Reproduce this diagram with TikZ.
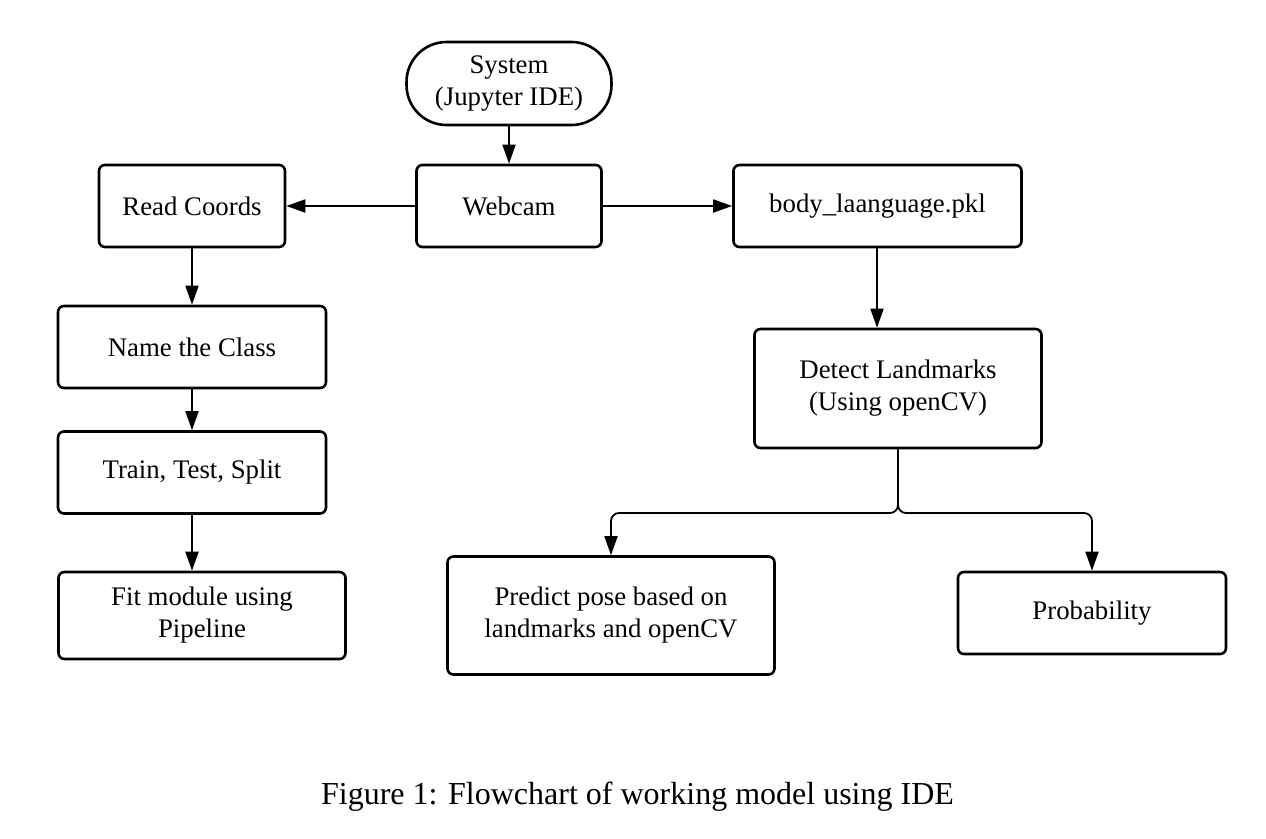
\documentclass[tikz,border=0pt]{standalone}
\usepackage{fontspec}
\setmainfont{Liberation Serif}
\usetikzlibrary{arrows.meta}
\newcommand{\boxfont}{\fontsize{26.8}{32}\selectfont}
\newcommand{\capfont}{\fontsize{32}{38}\selectfont}
\tikzset{
  flowbox/.style={draw, line width=2.6pt, rounded corners=6pt, inner sep=0pt,
    align=center, font=\boxfont, fill=white},
  termbox/.style={flowbox, rounded corners=40pt},
  conn/.style={line width=1.8pt, -{Triangle[length=19pt,width=13pt]}},
  branch/.style={conn, rounded corners=8pt}
}
\begin{document}
\begin{tikzpicture}[x=1pt,y=-1pt]
\useasboundingbox (0,0) rectangle (1266,838);
\node[termbox, minimum width=205pt, minimum height=83pt] (sys) at (509,83.5) {System\\(Jupyter IDE)};
\node[flowbox, minimum width=185pt, minimum height=82pt] (web) at (509,206) {Webcam};
\node[flowbox, minimum width=186pt, minimum height=82pt] (read) at (192,206) {Read Coords};
\node[flowbox, minimum width=288pt, minimum height=82pt] (body) at (877.5,206) {body\_laanguage.pkl};
\node[flowbox, minimum width=268pt, minimum height=82pt] (name) at (192,347) {Name the Class};
\node[flowbox, minimum width=268pt, minimum height=82pt] (train) at (192,472.5) {Train, Test, Split};
\node[flowbox, minimum width=287pt, minimum height=87pt] (fit) at (202,615.5) {Fit module using\\Pipeline};
\node[flowbox, minimum width=287pt, minimum height=119pt] (detect) at (898,388.5) {Detect Landmarks\\(Using openCV)};
\node[flowbox, minimum width=327pt, minimum height=118pt] (predict) at (611,615.5) {Predict pose based on\\landmarks and openCV};
\node[flowbox, minimum width=268pt, minimum height=82pt] (prob) at (1092,613) {Probability};
\node[font=\capfont, inner sep=0pt] (cap) at (637.5,797) {Figure 1: Flowchart of working model using IDE};

\draw[conn] (sys.south) -- (web.north);
\draw[conn] (web.west) -- (read.east);
\draw[conn] (web.east) -- (body.west);
\draw[conn] (read.south) -- (name.north);
\draw[conn] (name.south) -- (train.north);
\draw[conn] (train.south) -- (train.south |- fit.north);
\draw[conn] (body.south -| 877,0) -- (detect.north -| 877,0);
\coordinate (split) at (detect.south |- 0,513);
\draw[branch] (detect.south) -- (split) -| (predict.north);
\draw[branch] (detect.south) -- (split) -| (prob.north);
\end{tikzpicture}
\end{document}
